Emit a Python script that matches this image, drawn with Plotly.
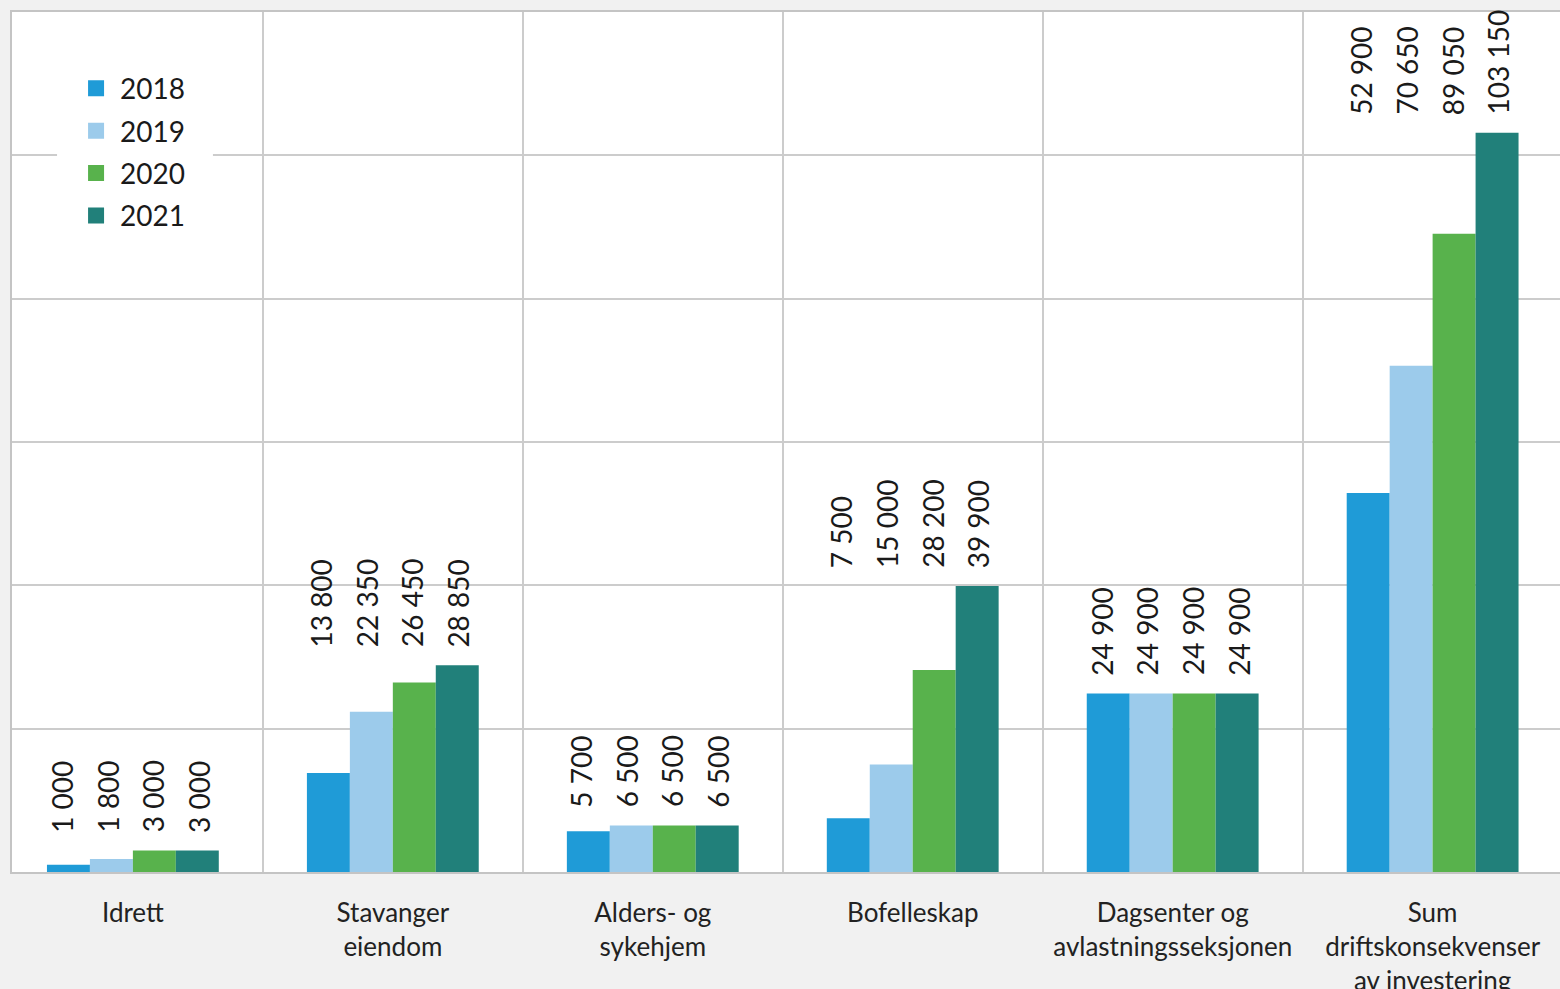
import plotly.graph_objects as go

categories = ["Idrett", "Stavanger eiendom", "Alders- og sykehjem", "Bofelleskap",
              "Dagsenter og avlastningsseksjonen", "Sum driftskonsekvenser av investering"]
tick_labels = ["Idrett", "Stavanger<br>eiendom", "Alders- og<br>sykehjem", "Bofelleskap",
               "Dagsenter og<br>avlastningsseksjonen", "Sum<br>driftskonsekvenser<br>av investering"]
years = ["2018", "2019", "2020", "2021"]
v2018 = [1000, 13800, 5700, 7500, 24900, 52900]
v2019 = [1800, 22350, 6500, 15000, 24900, 70650]
v2020 = [3000, 26450, 6500, 28200, 24900, 89050]
v2021 = [3000, 28850, 6500, 39900, 24900, 103150]
series = [v2018, v2019, v2020, v2021]
colors = ["#1f9bd7", "#9ccbeb", "#58b24c", "#21807a"]

FONT = "Lato, 'Open Sans', sans-serif"

def fmt(v):
    return f"{v:,}".replace(",", " ")

fig = go.Figure()
for name, vals, col in zip(years, series, colors):
    fig.add_trace(go.Bar(x=categories, y=vals, name=name, marker=dict(color=col, line=dict(width=0)),
                         showlegend=False, hoverinfo="x+y+name"))
# legend entries (square swatches)
for name, col in zip(years, colors):
    fig.add_trace(go.Scatter(x=[None], y=[None], mode="markers", name=name, legendgroup=name,
                             marker=dict(symbol="square", size=22, color=col), showlegend=True))

annotations = []
for i, cat in enumerate(categories):
    gmax = max(s[i] for s in series)
    for j, s in enumerate(series):
        annotations.append(dict(x=cat, y=gmax, xref="x", yref="y", text=fmt(s[i]), textangle=-90,
                                showarrow=False, xanchor="center", yanchor="bottom",
                                xshift=(j - 1.5) * 45.7 - 3, yshift=16,
                                font=dict(family=FONT, size=28, color="#1a1a1a")))

fig.update_layout(
    width=1560, height=989,
    margin=dict(l=12, r=0, t=12, b=117, autoexpand=False),
    paper_bgcolor="#f1f1f1", plot_bgcolor="#ffffff",
    barmode="group", bargap=0.339, bargroupgap=0,
    font=dict(family=FONT, color="#222222"),
    showlegend=True,
    legend=dict(x=0.0388, y=0.940, xanchor="left", yanchor="top", bgcolor="rgba(0,0,0,0)",
                font=dict(family=FONT, size=28, color="#1a1a1a"), itemsizing="trace",
                itemwidth=38, borderwidth=0, traceorder="grouped", tracegroupgap=3),
    annotations=annotations,
    shapes=[dict(type="rect", xref="paper", yref="paper", x0=0.0291, x1=0.1298, y0=0.74, y1=0.95,
                 fillcolor="#ffffff", line=dict(width=0), layer="above")],
)
fig.update_xaxes(type="category", range=[-0.465, 5.49], tickvals=categories, ticktext=tick_labels,
                 tickson="boundaries", showgrid=True, gridcolor="#cccccc", gridwidth=2,
                 ticks="", ticklabelstandoff=17, tickfont=dict(family=FONT, size=26, color="#222222"),
                 showline=True, linecolor="#c4c4c4", linewidth=2, mirror=True, zeroline=False,
                 automargin=False)
fig.update_yaxes(range=[0, 120000], dtick=20000, showgrid=True, gridcolor="#cccccc", gridwidth=2,
                 showticklabels=False, ticks="", showline=True, linecolor="#c4c4c4", linewidth=2,
                 mirror=True, zeroline=False, automargin=False)

fig.write_html("out.html", config={"displayModeBar": False},
               post_script="document.body.style.margin='0';document.body.style.background='#f1f1f1';")
